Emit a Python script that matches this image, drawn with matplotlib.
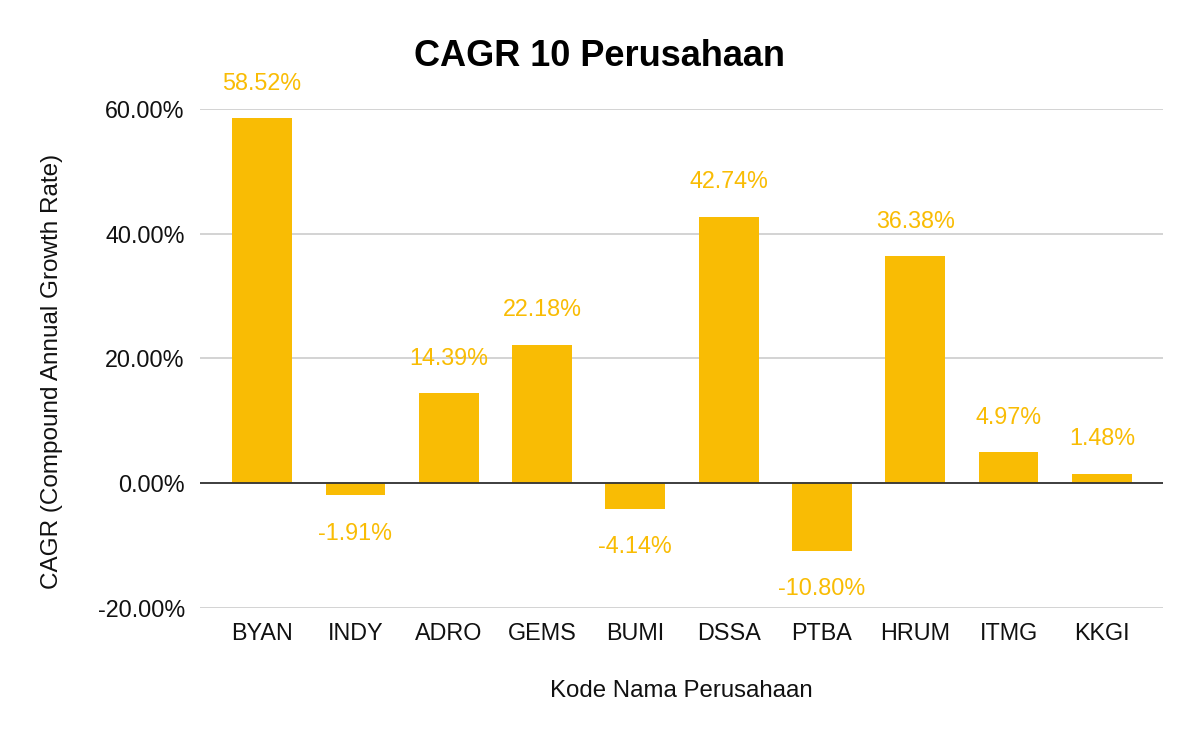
import matplotlib.pyplot as plt
from matplotlib.ticker import FuncFormatter

# data
kode = ["BYAN", "INDY", "ADRO", "GEMS", "BUMI", "DSSA", "PTBA", "HRUM", "ITMG", "KKGI"]
cagr = [58.52, -1.91, 14.39, 22.18, -4.14, 42.74, -10.80, 36.38, 4.97, 1.48]
y_ticks = [-20, 0, 20, 40, 60]

plt.rcParams['font.family'] = ['Liberation Sans', 'DejaVu Sans']

kuning = "#F9BC04"

fig = plt.figure(figsize=(12, 7.42), dpi=100)
ax = fig.add_axes([0.1667, 0.1806, 0.8025, 0.6725])

x = list(range(len(kode)))
ax.bar(x, cagr, width=0.64, color=kuning, zorder=3)

# value labels above / below each bar
for xi, v in zip(x, cagr):
    if v >= 0:
        ax.annotate(f"{v:.2f}%", (xi, v), xytext=(0, 17), textcoords="offset points",
                    ha="center", va="bottom", color=kuning, fontsize=16.8)
    else:
        ax.annotate(f"{v:.2f}%", (xi, v), xytext=(0, -19), textcoords="offset points",
                    ha="center", va="top", color=kuning, fontsize=16.8)

ax.set_xlim(-0.665, 9.655)
ax.set_ylim(-20, 60)
ax.set_yticks(y_ticks)
ax.yaxis.set_major_formatter(FuncFormatter(lambda v, p: f"{v:.2f}%"))
ax.set_xticks(x)
ax.set_xticklabels(kode)

ax.grid(axis="y", color="#cccccc", linewidth=1.2, zorder=0)
ax.axhline(0, color="#333333", linewidth=1.3, zorder=4)
for s in ax.spines.values():
    s.set_visible(False)
ax.tick_params(axis="both", length=0, labelsize=16.8, colors="#111111")
ax.tick_params(axis="y", pad=11)
ax.tick_params(axis="x", pad=10)

ax.set_xlabel("Kode Nama Perusahaan", fontsize=17.3, labelpad=25, color="#111111")
ax.set_ylabel("CAGR (Compound Annual Growth Rate)", fontsize=17.5, labelpad=25, color="#111111")
ax.yaxis.label.set_y(0.475)
fig.suptitle("CAGR 10 Perusahaan", fontsize=26, fontweight="bold", x=0.5, y=0.948)

fig.savefig("out.png", dpi=100)
